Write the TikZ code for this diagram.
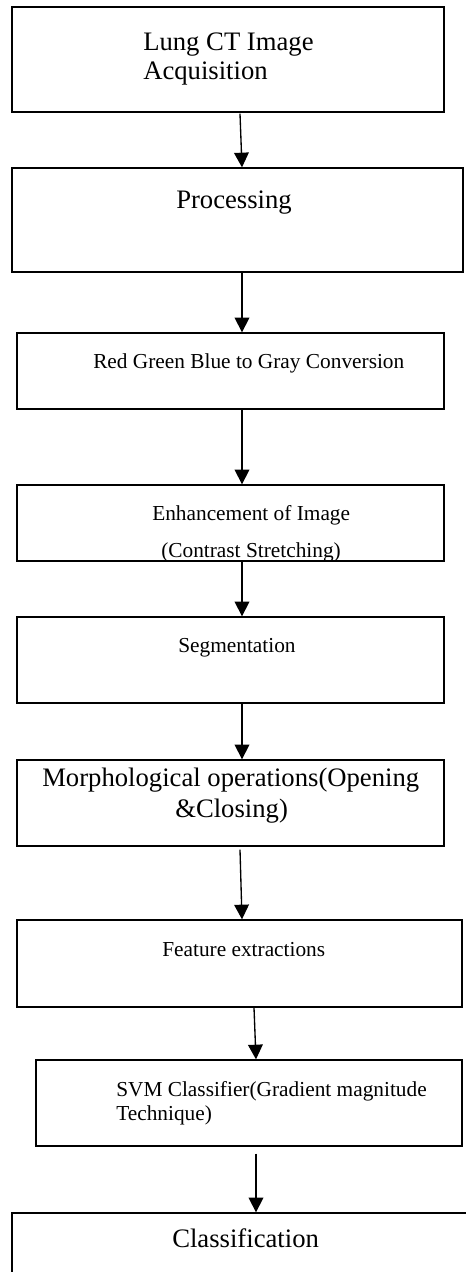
\documentclass[tikz,border=0pt]{standalone}
\usepackage{fontspec}
\setmainfont{Liberation Serif}
\usetikzlibrary{arrows.meta,fit,calc}
\begin{document}
\begin{tikzpicture}[x=0.75pt,y=-0.75pt,
 box/.style={draw, line width=1pt, inner sep=0pt},
 arr/.style={line width=1pt, -{Triangle[width=11pt,length=11pt]}},
 big/.style={inner sep=0pt, anchor=base west, font=\fontsize{20}{24}\selectfont},
 small/.style={inner sep=0pt, anchor=base west, font=\fontsize{16}{19}\selectfont}]
\useasboundingbox (0,0) rectangle (466,1272);
% boxes
\node[box, fit={(12,7) (444,112)}] (b1) {};
\node[box, fit={(12,168) (463,272)}] (b2) {};
\node[box, fit={(17,333) (444,409)}] (b3) {};
\node[box, fit={(17,485) (444,561)}] (b4) {};
\node[box, fit={(17,617) (444,703)}] (b5) {};
\node[box, fit={(17,760) (444,846)}] (b6) {};
\node[box, fit={(17,920) (462,1007)}] (b7) {};
\node[box, fit={(36,1060) (462,1146)}] (b8) {};
\node[box, fit={(12,1213) (472,1290)}] (b9) {};
% texts
\node[big] (t1a) at (143,50) {Lung CT Image};
\node[big] (t1b) at (143,79) {Acquisition};
\node[big] (t2) at (176,208) {Processing};
\node[small] (t3) at (93,368) {Red Green Blue to Gray Conversion};
\node[small] (t4a) at (152,520) {Enhancement of Image};
\node[small] (t4b) at (161,557) {(Contrast Stretching)};
\node[small] (t5) at (178,652) {Segmentation};
\node[big] (t6a) at (42,786) {Morphological operations(Opening};
\node[big] (t6b) at (175,817) {\&Closing)};
\node[small] (t7) at (162,956) {Feature extractions};
\node[small] (t8a) at (116,1096) {SVM Classifier(Gradient magnitude};
\node[small] (t8b) at (116,1120) {Technique)};
\node[big] (t9) at (172,1247) {Classification};
% arrows
\draw[arr] ($(b1.south -| 240,0)+(0,1)$) -- (b2.north -| 242,0);
\draw[arr] (b2.south -| 242,0) -- (b3.north -| 242,0);
\draw[arr] (b3.south -| 242,0) -- (b4.north -| 242,0);
\draw[arr] (b4.south -| 242,0) -- (b5.north -| 242,0);
\draw[arr] (b5.south -| 242,0) -- (b6.north -| 242,0);
\draw[arr] ($(b6.south -| 240,0)+(0,3)$) -- (b7.north -| 242,0);
\draw[arr] (b7.south -| 254,0) -- (b8.north -| 256,0);
\draw[arr] ($(b8.south -| 256,0)+(0,7)$) -- (b9.north -| 256,0);
\end{tikzpicture}
\end{document}
